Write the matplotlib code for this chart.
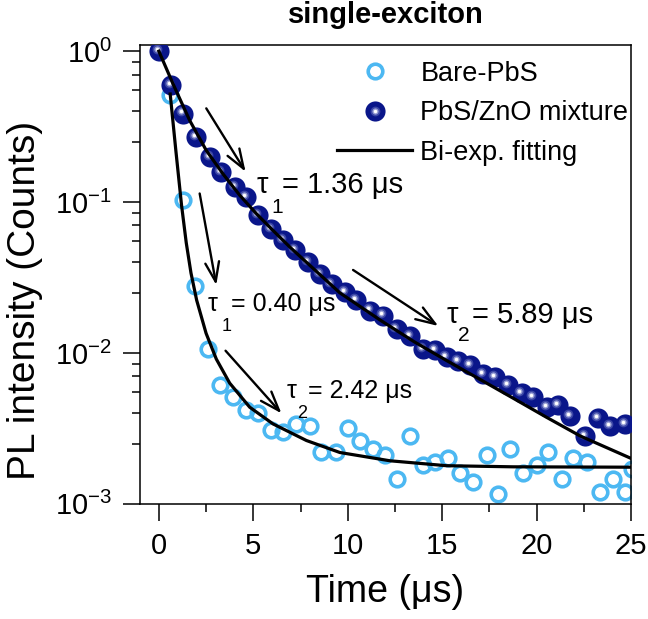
import matplotlib
matplotlib.use('Agg')
import matplotlib.pyplot as plt
from matplotlib.ticker import FixedLocator, MultipleLocator, NullFormatter
from matplotlib.transforms import offset_copy
from matplotlib.legend_handler import HandlerTuple

plt.rcParams['font.family'] = ['Liberation Sans', 'DejaVu Sans']
plt.rcParams['mathtext.fontset'] = 'custom'
plt.rcParams['mathtext.rm'] = 'Liberation Sans'
plt.rcParams['mathtext.it'] = 'Liberation Sans:italic'
plt.rcParams['mathtext.bf'] = 'Liberation Sans:bold'
plt.rcParams['axes.unicode_minus'] = False

# PL decay, values (time in us)
t_bare = [0, 0.57, 1.28, 1.89, 2.61, 3.22, 3.94, 4.63, 5.25, 5.96, 6.57,
          7.28, 7.99, 8.6, 9.4, 10.02, 10.64, 11.34, 11.96, 12.6, 13.29,
          13.99, 14.61, 15.32, 15.94, 16.64, 17.35, 17.96, 18.59, 19.29,
          20.0, 20.61, 21.32, 21.94, 22.65, 23.36, 24.06, 24.68, 25.05]
pl_bare = [1.0, 0.51, 0.1026, 0.028, 0.0106, 0.0061, 0.0051, 0.0042, 0.0040,
           0.0031, 0.0030, 0.0034, 0.0033, 0.0022, 0.0022, 0.0032, 0.0026,
           0.0023, 0.0021, 0.00146, 0.0028, 0.0018, 0.0019, 0.0020, 0.0016,
           0.0014, 0.0021, 0.00116, 0.0023, 0.0016, 0.0018, 0.0022, 0.00146,
           0.0020, 0.0019, 0.0012, 0.00146, 0.0012, 0.0017]

t_mix = [0, 0.66, 1.27, 1.98, 2.69, 3.31, 4.01, 4.63, 5.25, 5.96, 6.57,
         7.19, 7.9, 8.52, 9.14, 9.84, 10.46, 11.17, 11.87, 12.58, 13.29,
         13.99, 14.61, 15.23, 15.85, 16.46, 17.17, 17.79, 18.5, 19.2, 19.82,
         20.53, 21.15, 21.76, 22.56, 23.27, 23.88, 24.68]
pl_mix = [1.0, 0.595, 0.386, 0.27, 0.199, 0.158, 0.126, 0.108, 0.0816,
          0.0666, 0.0557, 0.0479, 0.040, 0.0335, 0.0287, 0.0253, 0.0223,
          0.0191, 0.0177, 0.0144, 0.013, 0.0106, 0.0104, 0.0094, 0.0089,
          0.0083, 0.0073, 0.0069, 0.0061, 0.0054, 0.0051, 0.0044, 0.0045,
          0.0038, 0.0028, 0.0037, 0.0033, 0.0034]

# bi-exponential fit curves
t_fit_bare = [0.6, 0.9, 1.2, 1.45, 1.7, 2.0, 2.5, 3.04, 3.75, 4.81, 6.04,
              7.81, 9.58, 12.23, 15.23, 18.76, 25]
fit_bare = [0.52, 0.219, 0.0955, 0.0537, 0.0339, 0.0224, 0.0135, 0.00912,
            0.00631, 0.00437, 0.00339, 0.00263, 0.00219, 0.00193, 0.00179,
            0.00176, 0.00175]
t_fit_mix = [0, 0.74, 1.63, 2.51, 3.39, 4.28, 5.16, 6.04, 6.93, 8.0, 9.57,
             11.69, 13.5, 15.23, 17.0, 18.76, 20.5, 22.3, 25]
fit_mix = [1.0, 0.611, 0.348, 0.220, 0.154, 0.111, 0.0838, 0.0649, 0.0504,
           0.0380, 0.0251, 0.0166, 0.0119, 0.00891, 0.00668, 0.00501,
           0.00376, 0.00282, 0.00200]

labels = ['Bare-PbS', 'PbS/ZnO mixture', 'Bi-exp. fitting']
c_bare = '#4cb8f2'
c_mix = '#0a168a'

fig = plt.figure(figsize=(6.48, 6.19), dpi=100)
ax = fig.add_axes([0.216, 0.186, 0.758, 0.741])

h_bare, = ax.plot(t_bare, pl_bare, ls='none', marker='o', ms=10.5, mew=2.6,
                  mfc='none', mec=c_bare, zorder=2)

# shaded balls: dark body + light spot shifted up-left
hl = offset_copy(ax.transData, fig=fig, x=-1.5, y=1.5, units='points')
h_m0, = ax.plot(t_mix, pl_mix, ls='none', marker='o', ms=14.5, mew=0,
                mfc=c_mix, zorder=3)
h_m1, = ax.plot(t_mix, pl_mix, ls='none', marker='o', ms=7, mew=0,
                mfc='#3d48a6', zorder=3, transform=hl)
h_m2, = ax.plot(t_mix, pl_mix, ls='none', marker='o', ms=4.5, mew=0,
                mfc='#9aa0d6', zorder=3, transform=hl)
h_m3, = ax.plot(t_mix, pl_mix, ls='none', marker='o', ms=2.5, mew=0,
                mfc='white', zorder=3, transform=hl)

h_fit, = ax.plot(t_fit_mix, fit_mix, c='k', lw=2.3, zorder=4)
ax.plot(t_fit_bare, fit_bare, c='k', lw=2.3, zorder=4)

# arrows
arrows = [((2.51, 0.418), (4.59, 0.159)),
          ((10.28, 0.0355), (14.79, 0.0151)),
          ((2.16, 0.114), (3.04, 0.0282)),
          ((3.53, 0.01035), (6.49, 0.00398))]
for start, end in arrows:
    ax.annotate('', xy=end, xytext=start, zorder=5,
                arrowprops=dict(arrowstyle='->,head_length=0.7,head_width=0.25',
                                mutation_scale=20, lw=1.7, color='k',
                                shrinkA=0, shrinkB=0))


def tau_label(x, y, sub, rest, size, dx_sub, dy_sub, dx_rest):
    ax.annotate('\u03c4', (x, y), fontsize=size, ha='left', va='baseline')
    ax.annotate(sub, (x, y), xytext=(dx_sub, dy_sub),
                textcoords='offset points', fontsize=size * 0.72,
                ha='left', va='baseline')
    ax.annotate(rest, (x, y), xytext=(dx_rest, 0),
                textcoords='offset points', fontsize=size,
                ha='left', va='baseline')


tau_label(5.18, 0.114, '1', '= 1.36 \u03bcs', 21, 10.8, -14.4, 18)
tau_label(15.24, 0.0159, '2', '= 5.89 \u03bcs', 21, 8, -13, 18)
tau_label(2.58, 0.0191, '1', '= 0.40 \u03bcs', 18, 10, -14.4, 17)
tau_label(6.77, 0.00506, '2', '= 2.42 \u03bcs', 18, 7.2, -14.4, 15)

ax.set_yscale('log')
ax.set_xlim(-1, 25)
ax.set_ylim(1e-3, 1.096)
ax.xaxis.set_major_locator(MultipleLocator(5))
ax.xaxis.set_minor_locator(MultipleLocator(2.5))
ax.yaxis.set_major_locator(FixedLocator([1e-3, 1e-2, 1e-1, 1e0]))
minors = [m * 10.0 ** e for e in (-3, -2, -1) for m in (2.5, 4, 5.5, 7, 8.5)]
ax.yaxis.set_minor_locator(FixedLocator(minors))
ax.yaxis.set_minor_formatter(NullFormatter())

ax.tick_params(which='major', direction='out', length=12, width=1.1,
               labelsize=21, pad=8)
ax.tick_params(which='minor', direction='out', length=6, width=1.1)
for sp in ax.spines.values():
    sp.set_linewidth(1.1)

ax.set_xlabel('Time (\u03bcs)', fontsize=27, labelpad=10)
ax.set_ylabel('PL intensity (Counts)', fontsize=28)
ax.yaxis.set_label_coords(-0.198, 0.444)
ax.set_title('single-exciton', fontsize=21, fontweight='bold', pad=16)

ax.legend([h_bare, (h_m0, h_m1, h_m2, h_m3), h_fit], labels,
          handler_map={tuple: HandlerTuple(ndivide=1, pad=0)},
          loc='upper left', bbox_to_anchor=(0.401, 0.966), frameon=False,
          fontsize=19.5, handlelength=2.78, handletextpad=0.3,
          labelspacing=0.5, borderpad=0, borderaxespad=0, numpoints=1)

fig.savefig('out.png', dpi=100)
